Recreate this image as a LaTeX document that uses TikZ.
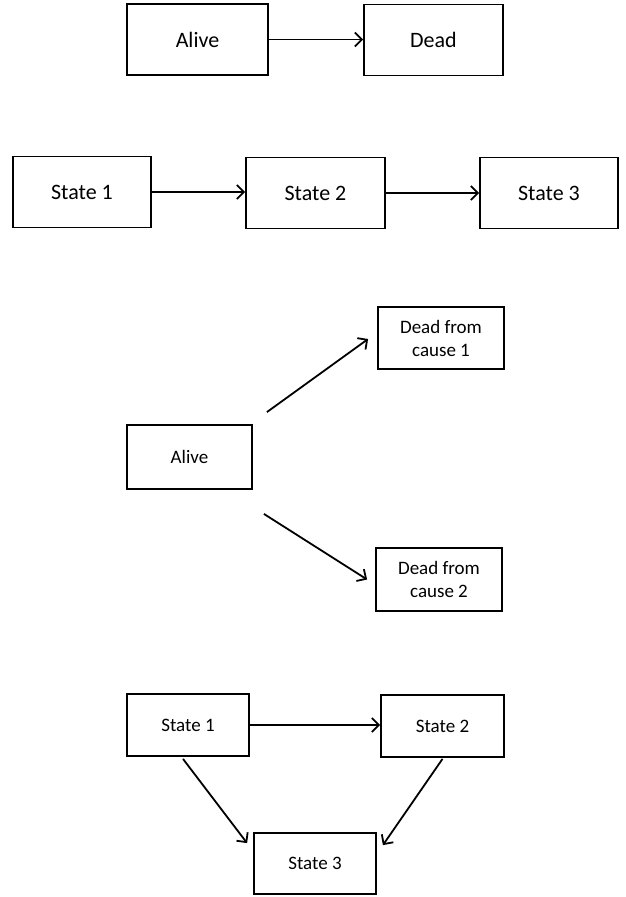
\documentclass[tikz,border=0pt]{standalone}
\usepackage{fontspec}
\setmainfont{Carlito}
\usetikzlibrary{arrows.meta, calc}

\begin{document}
\begin{tikzpicture}[
    x=1pt, y=-1pt,
    bigbox/.style={rectangle, draw=black, line width=1.8pt, inner sep=0pt,
                   minimum width=139pt, minimum height=71pt, align=center,
                   font=\fontsize{22}{26}\selectfont},
    smallbox/.style={rectangle, draw=black, line width=1.8pt, inner sep=0pt,
                     minimum width=124pt, minimum height=63pt, align=center,
                     font=\fontsize{19}{23}\selectfont},
    arrow/.style={-{Straight Barb[length=7pt, width=14pt]}, line width=1.8pt, black}
  ]
    \useasboundingbox (0,0) rectangle (625,897);

    % two-state model
    \node[bigbox, minimum width=141pt] (alive) at (197.5,39.5) {Alive};
    \node[bigbox] (dead) at (433.5,40) {Dead};
    \draw[arrow] (alive.east) -- (alive.east -| dead.west);

    % three states in a row
    \node[bigbox, minimum width=138pt] (rowA) at (82,192) {State 1};
    \node[bigbox] (rowB) at (315.5,193) {State 2};
    \node[bigbox, minimum width=138pt] (rowC) at (549,193) {State 3};
    \draw[arrow] (rowA.east) -- (rowA.east -| rowB.west);
    \draw[arrow] (rowB.east) -- (rowB.east -| rowC.west);

    % competing risks
    \node[smallbox, minimum width=125pt, minimum height=64pt] (risk) at (189.5,457) {Alive};
    \node[smallbox, minimum width=126pt, minimum height=62pt] (causeA) at (441,338) {Dead from\\cause 1};
    \node[smallbox, minimum width=126pt] (causeB) at (439,579.5) {Dead from\\cause 2};
    \draw[arrow] ($(risk.north east)+(14,-12)$) -- ($(causeA.west)+(-9,1)$);
    \draw[arrow] ($(risk.south east)+(11,24)$) -- ($(causeB.west)+(-8,0)$);

    % illness-death model
    \node[smallbox, minimum width=122pt, minimum height=62pt] (ill1) at (188,725) {State 1};
    \node[smallbox, minimum width=123pt, minimum height=62pt] (ill2) at (442.5,726) {State 2};
    \node[smallbox, minimum width=122pt, minimum height=61pt] (ill3) at (315,863.5) {State 3};
    \draw[arrow] (ill1.east) -- (ill1.east -| ill2.west);
    \draw[arrow] ($(ill1.south)+(-5,2)$) -- ($(ill3.north west)+(-6,11)$);
    \draw[arrow] ($(ill2.south)+(0,1)$) -- ($(ill3.north east)+(6,13)$);
  \end{tikzpicture}
\end{document}
